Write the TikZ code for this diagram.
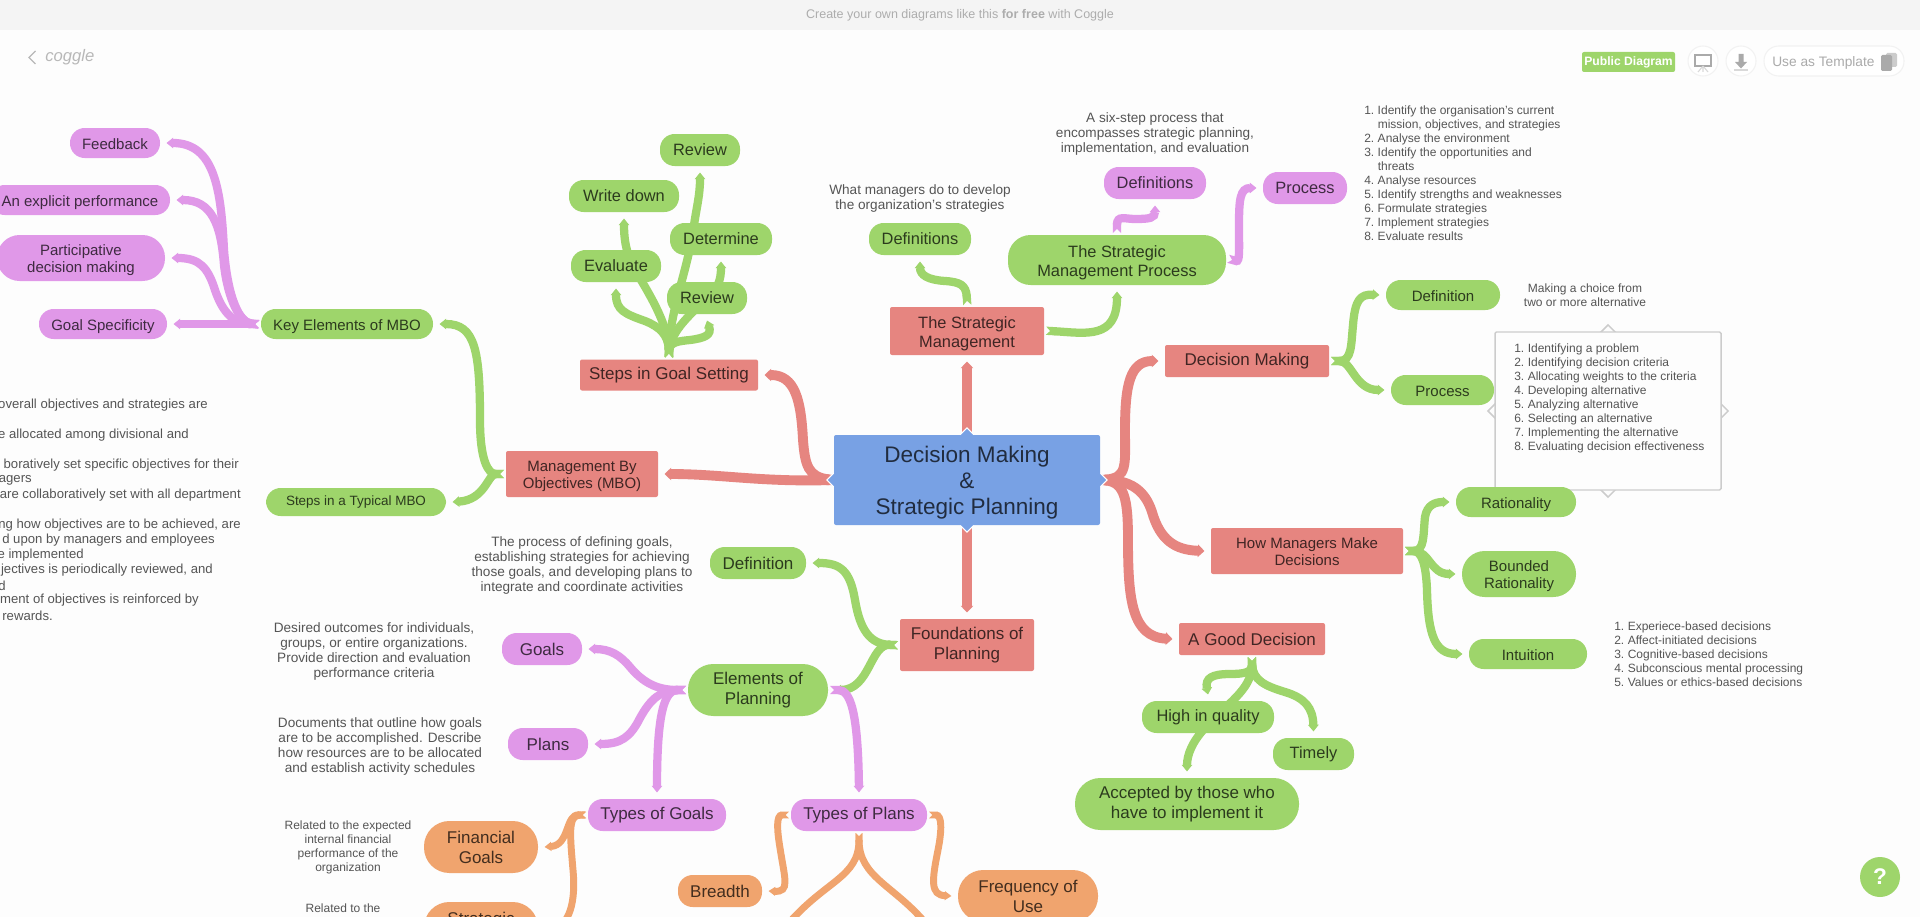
\documentclass[tikz,border=0pt]{standalone}
\usepackage{fontspec}
\setmainfont{Liberation Sans}
\usetikzlibrary{arrows.meta,backgrounds,shapes.geometric}
\definecolor{mapred}{HTML}{E68580}
\definecolor{mapgreen}{HTML}{9ED56B}
\definecolor{mappurple}{HTML}{E098E8}
\definecolor{maporange}{HTML}{F0A46E}
\definecolor{mapblue}{HTML}{78A1E4}
\definecolor{pagebg}{HTML}{FDFDFD}
\definecolor{barbg}{HTML}{F4F4F4}
\definecolor{desctext}{HTML}{555555}
\definecolor{uigrey}{HTML}{AAAAAA}
\tikzset{
  sz/.style 2 args={minimum width=#1*.75pt,minimum height=#2*.75pt},
  lowtext/.style={execute at begin node={\rule{0pt}{#1}},execute at end node={\rule[-.21em]{0pt}{0pt}}},
  f12/.style={font=\fontsize{9}{10.5}\selectfont},
  f13/.style={font=\fontsize{10.2}{11.25}\selectfont},
  f15/.style={font=\fontsize{11.25}{12.75}\selectfont,lowtext=1.03em},
  f16/.style={font=\fontsize{12.3}{14.25}\selectfont},
  f17/.style={font=\fontsize{12.75}{15}\selectfont},
  mapbox/.style={inner sep=0pt,outer sep=4.9pt,align=center,text=black,text opacity=.72},
  greenpill/.style={mapbox,rounded corners=11pt,fill=mapgreen},
  purplepill/.style={mapbox,rounded corners=11pt,fill=mappurple},
  orangepill/.style={mapbox,rounded corners=11pt,fill=maporange},
  wide/.style={rounded corners=17pt},
  redbox/.style={mapbox,rounded corners=1.5pt,fill=mapred},
  desc/.style={align=center,inner sep=0pt,text=desctext,f13},
  small/.style={align=center,inner sep=0pt,text=desctext,f12},
  listtext/.style={anchor=north west,inner sep=0pt,text=desctext,f12},
  link/.style={{Triangle Cap[reversed]}-{Triangle[length=5pt,width=0pt 1.25]},shorten <=-3.4pt},
  linkred/.style={link,draw=mapred,line width=7.4pt},
  linkgreen/.style={link,draw=mapgreen,line width=6.2pt},
  linkpurple/.style={link,draw=mappurple,line width=6.2pt},
  linkorange/.style={link,draw=maporange,line width=5.2pt},
  caret/.style={diamond,inner sep=0pt,minimum size=11pt},
}
\newcommand{\numlist}[1]{\begin{tabular}{@{}r@{\hspace{2.6pt}}l@{}}#1\end{tabular}}
\newcommand{\topstrut}[1][1.03em]{\rule{0pt}{#1}}
\begin{document}
\begin{tikzpicture}[x=.75pt,y=-.75pt]
    \useasboundingbox (0,0) rectangle (1920,917);
    %root and first level
    \node[mapbox,outer sep=0pt,rounded corners=1.5pt,fill=mapblue,sz={266}{90},font=\fontsize{16.9}{19.5}\selectfont] (root) at (967,480) {\topstrut[.95em]Decision Making\\\&\\Strategic Planning};
    \node[redbox,sz={154}{48},f16] (strategic) at (967,331) {\topstrut The Strategic\\Management};
    \node[redbox,sz={178}{31},f17] (goalsetting) at (669,375) {Steps in Goal Setting};
    \node[redbox,sz={152}{46},f15] (mbo) at (582,474) {\topstrut Management By\\Objectives (MBO)};
    \node[redbox,sz={164}{32},f17] (decision) at (1247,361) {Decision Making};
    \node[redbox,sz={192}{46},f15] (howmake) at (1307,551) {\topstrut How Managers Make\\Decisions};
    \node[redbox,sz={146}{32},f17] (gooddec) at (1252,639) {A Good Decision};
    \node[redbox,sz={134}{52},f17] (found) at (967,645) {Foundations of\\Planning};
    %strategic management
    \node[greenpill,sz={102}{32},f16] (stratdef) at (920,239) {Definitions};
    \node[greenpill,wide,sz={218}{50},f16] (smp) at (1117,260) {\topstrut The Strategic\\Management Process};
    \node[purplepill,sz={102}{32},f16] (smpdef) at (1155,183) {Definitions};
    \node[purplepill,sz={84}{32},f16] (smpproc) at (1305,188) {Process};
    \node[desc] (stratdeftext) at (920,198.4) {What managers do to develop\\the organization's strategies};
    \node[desc] (smpdeftext) at (1155,134.4) {A six-step process that\\encompasses strategic planning,\\implementation, and evaluation};
    \node[listtext] (smplist) at (1364,104) {\numlist{1. & Identify the organisation's current\\ & mission, objectives, and strategies\\2. & Analyse the environment\\3. & Identify the opportunities and\\ & threats\\4. & Analyse resources\\5. & Identify strengths and weaknesses\\6. & Formulate strategies\\7. & Implement strategies\\8. & Evaluate results}};
    %goal setting
    \node[greenpill,sz={80}{32},f16] (review) at (700,150) {Review};
    \node[greenpill,sz={110}{32},f16] (writedown) at (624,196) {Write down};
    \node[greenpill,sz={102}{32},f16] (determine) at (721,239) {Determine};
    \node[greenpill,sz={90}{32},f16] (evaluate) at (616,266) {Evaluate};
    \node[greenpill,sz={80}{32},f16] (reviewb) at (707,298) {Review};
    %mbo
    \node[greenpill,sz={172}{30},f15] (keyelem) at (347,324) {Key Elements of MBO};
    \node[greenpill,sz={180}{28},font=\fontsize{10.1}{11.25}\selectfont] (typical) at (356,502) {Steps in a Typical MBO};
    \node[purplepill,sz={90}{30},f15] (feedback) at (115,143) {Feedback};
    \node[purplepill,sz={180}{30},f15] (explicit) at (80,200) {An explicit performance};
    \node[purplepill,wide,sz={168}{46},f15] (particip) at (81,258) {\topstrut Participative\\decision making};
    \node[purplepill,sz={128}{30},f15] (goalspec) at (103,324) {Goal Specificity};
    \foreach \ypos/\xend/\txt in {405.4/208/{overall objectives and strategies are},435.4/189/{e allocated among divisional and},465.4/239/{boratively set specific objectives for their},480.4/32/{agers},495.4/241/{are collaboratively set with all department},525.4/241/{ng how objectives are to be achieved, are},540.4/215/{d upon by managers and employees},555.4/84/{e implemented},570.4/213/{jectives is periodically reviewed, and},585.4/6/{d},600.4/199/{ment of objectives is reinforced by},615.4/53/{rewards.}}
      \node[anchor=east,inner sep=0pt,text=desctext,font=\fontsize{9.85}{11.25}\selectfont] (mbostep\ypos) at (\xend,\ypos) {\txt};
    %decision making
    \node[greenpill,sz={114}{30},f15] (decdef) at (1443,295) {Definition};
    \node[greenpill,sz={103}{30},f15] (decproc) at (1442.5,390) {Process};
    \node[small] (decdeftext) at (1585,295) {Making a choice from\\two or more alternative};
    \node[caret,fill=pagebg,draw=black!20,line width=1.1pt] (caretn) at (1608,332) {};
    \node[caret,fill=pagebg,draw=black!20,line width=1.1pt] (carets) at (1608,490) {};
    \node[caret,fill=pagebg,draw=black!20,line width=1.1pt] (caretw) at (1495,411) {};
    \node[caret,fill=pagebg,draw=black!20,line width=1.1pt] (carete) at (1721,411) {};
    \node[fill=pagebg,draw=black!20,line width=1.1pt,rounded corners=1pt,sz={226}{158},inner sep=0pt] (procbox) at (1608,411) {};
    \node[listtext] (declist) at (1514,342) {\numlist{1. & Identifying a problem\\2. & Identifying decision criteria\\3. & Allocating weights to the criteria\\4. & Developing alternative\\5. & Analyzing alternative\\6. & Selecting an alternative\\7. & Implementing the alternative\\8. & Evaluating decision effectiveness}};
    %how managers make decisions
    \node[greenpill,sz={120}{30},f15] (ration) at (1516,502) {Rationality};
    \node[greenpill,wide,sz={114}{46},f15] (bounded) at (1519,574) {\topstrut Bounded\\Rationality};
    \node[greenpill,sz={118}{30},f15] (intuit) at (1528,654) {Intuition};
    \node[listtext] (intlist) at (1614,620) {\numlist{1. & Experiece-based decisions\\2. & Affect-initiated decisions\\3. & Cognitive-based decisions\\4. & Subconscious mental processing\\5. & Values or ethics-based decisions}};
    %good decision
    \node[greenpill,sz={132}{32},f16] (quality) at (1208,717) {High in quality};
    \node[greenpill,sz={81}{32},f16] (timely) at (1313.5,754) {Timely};
    \node[greenpill,wide,rounded corners=19pt,sz={224}{52},f17] (accepted) at (1187,804) {Accepted by those who\\have to implement it};
    %foundations of planning
    \node[greenpill,sz={96}{32},f17] (founddef) at (758,563) {Definition};
    \node[greenpill,wide,rounded corners=19pt,sz={140}{52},f17] (elements) at (758,690) {Elements of\\Planning};
    \node[desc] (founddeftext) at (582,565) {The process of defining goals,\\establishing strategies for achieving\\those goals, and developing plans to\\integrate and coordinate activities};
    \node[purplepill,sz={80}{32},f17] (goals) at (542,649) {Goals};
    \node[purplepill,sz={80}{32},f17] (plans) at (548,744) {Plans};
    \node[desc] (goalstext) at (374,651) {Desired outcomes for individuals,\\groups, or entire organizations.\\Provide direction and evaluation\\performance criteria};
    \node[desc] (planstext) at (380,746) {Documents that outline how goals\\are to be accomplished. Describe\\how resources are to be allocated\\and establish activity schedules};
    \node[purplepill,sz={138}{32},f17] (typegoals) at (657,815) {Types of Goals};
    \node[purplepill,sz={136}{32},f17] (typeplans) at (859,815) {Types of Plans};
    \node[orangepill,wide,rounded corners=19pt,sz={114}{52},f17] (financial) at (481,847) {Financial\\Goals};
    \node[orangepill,wide,rounded corners=19pt,sz={114}{52},f17] (strategicg) at (481,928) {Strategic\\\phantom{Goals}};
    \node[small] (financialtext) at (348,847) {Related to the expected\\internal financial\\performance of the\\organization};
    \node[small,anchor=north] (strategictext) at (343,904) {Related to the};
    \node[orangepill,sz={84}{32},f17] (breadth) at (720,891) {Breadth};
    \node[orangepill,wide,rounded corners=19pt,sz={140}{52},f17] (frequency) at (1028,896) {Frequency of\\Use};
    \coordinate (planleft) at (782,931);
    \coordinate (planright) at (932,931);
    %page furniture
    \node[anchor=center,text=black!32,font=\fontsize{9.4}{11}\selectfont] (banner) at (960,15) {Create your own diagrams like this \textbf{for free} with Coggle};
    \node[anchor=west,inner sep=0pt,text=black!28,font=\fontsize{12.5}{15}\itshape\selectfont] (logo) at (45,57) {coggle};
    \draw[black!28,line width=1pt] (35.5,51) -- (29,57.5) -- (35.5,64);
    \node[fill=mapgreen,rounded corners=1.5pt,text=white,inner sep=0pt,sz={93}{20},font=\fontsize{9.1}{11}\bfseries\selectfont] (public) at (1628.5,62) {Public Diagram};
    \node[circle,fill=white,draw=black!5,line width=.8pt,sz={30}{30},inner sep=0pt] (slidebtn) at (1703,61) {};
    \node[circle,fill=white,draw=black!5,line width=.8pt,sz={30}{30},inner sep=0pt] (downbtn) at (1741,61) {};
    \node[fill=white,draw=black!5,line width=.8pt,rounded corners=11pt,sz={140}{30},inner sep=0pt] (tplbtn) at (1834,61) {};
    \node[anchor=west,inner sep=0pt,text=uigrey,font=\fontsize{10.3}{12}\selectfont] (tpltext) at (1772,63) {Use as Template};
    \draw[uigrey,line width=1.1pt,fill=white] (1695,55) rectangle (1711,66);
    \draw[black!15,line width=.8pt] (1703,66) -- (1703,72) (1703,66) -- (1698,72) (1703,66) -- (1708,72);
    \fill[uigrey] (1738.5,54) rectangle (1743.5,62) -- (1747,62) -- (1741,68.5) -- (1735,62) -- (1738.5,62);
    \draw[black!15,line width=.8pt] (1734,70) -- (1748,70);
    \fill[black!20,rounded corners=1pt] (1886,53) rectangle (1897,67);
    \fill[uigrey,rounded corners=1pt] (1881,55) rectangle (1892,71);
    \node[circle,fill=mapgreen,text=white,sz={40}{40},inner sep=0pt,font=\fontsize{17}{20}\bfseries\selectfont] (help) at (1880,877) {?};
    %connectors
    \begin{scope}[on background layer]
    \fill[pagebg] (0,0) rectangle (1920,917);
    \fill[barbg] (0,0) rectangle (1920,30);
    \draw[linkred] (root.north) -- (strategic.south);
    \draw[linkred] (root.south) -- (found.north);
    \draw[linkred] (root.west) .. controls (808,477) and (805,465) .. (803,440) .. controls (801,400) and (795,375) .. (goalsetting.east);
    \draw[linkred] (root.west) .. controls (760,482) and (720,474) .. (mbo.east);
    \draw[linkred] (root.east) .. controls (1128,478) and (1125,465) .. (1125,430) .. controls (1125,385) and (1130,361) .. (decision.west);
    \draw[linkred] (root.east) .. controls (1130,480) and (1145,490) .. (1152,512) .. controls (1160,540) and (1175,550) .. (howmake.west);
    \draw[linkred] (root.east) .. controls (1125,482) and (1128,500) .. (1128,540) .. controls (1128,600) and (1132,637) .. (gooddec.west);
    \draw[linkgreen] (strategic.north) .. controls (966,285) and (960,282) .. (945,281) .. controls (928,280) and (920,275) .. (stratdef.south);
    \draw[linkgreen] (strategic.east) .. controls (1085,333) and (1117,340) .. (smp.south);
    \draw[linkpurple] (smp.north) .. controls (1117,215) and (1125,219) .. (1135,219) .. controls (1150,219) and (1155,218) .. (smpdef.south);
    \draw[linkpurple] (smp.east) .. controls (1240,262) and (1239,250) .. (1239,225) .. controls (1239,200) and (1240,188) .. (smpproc.west);
    \draw[linkgreen] (goalsetting.north) .. controls (670,310) and (688,270) .. (694,225) .. controls (697,205) and (700,195) .. (review.south);
    \draw[linkgreen] (goalsetting.north) .. controls (668,325) and (650,295) .. (638,275) .. controls (628,258) and (624,245) .. (writedown.south);
    \draw[linkgreen] (goalsetting.north) .. controls (672,330) and (690,315) .. (705,300) .. controls (718,290) and (721,280) .. (determine.south);
    \draw[linkgreen] (goalsetting.north) .. controls (668,335) and (660,327) .. (645,321) .. controls (625,314) and (616,310) .. (evaluate.south);
    \draw[linkgreen] (goalsetting.north) .. controls (670,342) and (680,341) .. (690,340) .. controls (705,338) and (712,335) .. (reviewb.south);
    \draw[linkgreen] (mbo.west) .. controls (488,474) and (480,460) .. (480,420) .. controls (480,350) and (475,324) .. (keyelem.east);
    \draw[linkgreen] (mbo.west) .. controls (488,474) and (485,500) .. (typical.east);
    \draw[linkpurple] (keyelem.west) -- (goalspec.east);
    \draw[linkpurple] (keyelem.west) .. controls (240,322) and (228,300) .. (224,250) .. controls (221,190) and (215,143) .. (feedback.east);
    \draw[linkpurple] (keyelem.west) .. controls (240,322) and (228,300) .. (224,265) .. controls (221,225) and (212,200) .. (explicit.east);
    \draw[linkpurple] (keyelem.west) .. controls (240,324) and (225,320) .. (215,290) .. controls (208,268) and (200,258) .. (particip.east);
    \draw[linkgreen] (found.west) .. controls (870,644) and (860,630) .. (855,600) .. controls (850,570) and (840,563) .. (founddef.east);
    \draw[linkgreen] (found.west) .. controls (870,644) and (870,690) .. (elements.east);
    \draw[linkpurple] (elements.east) .. controls (850,690) and (858,710) .. (typeplans.north);
    \draw[linkpurple] (elements.west) .. controls (665,690) and (657,710) .. (typegoals.north);
    \draw[linkpurple] (elements.west) .. controls (660,690) and (645,685) .. (630,667) .. controls (620,655) and (610,649) .. (goals.east);
    \draw[linkpurple] (elements.west) .. controls (660,690) and (650,700) .. (640,718) .. controls (630,738) and (620,744) .. (plans.east);
    \draw[linkorange] (typegoals.west) .. controls (565,814) and (570,845) .. (financial.east);
    \draw[linkorange] (typegoals.west) .. controls (568,816) and (570,835) .. (573,870) .. controls (576,900) and (570,928) .. (strategicg.east);
    \draw[linkorange] (typeplans.west) .. controls (776,815) and (777,830) .. (780,848) .. controls (785,880) and (790,892) .. (breadth.east);
    \draw[linkorange] (typeplans.east) .. controls (942,815) and (942,830) .. (938,850) .. controls (932,880) and (930,895) .. (frequency.west);
    \draw[linkorange] (typeplans.south) .. controls (859,878) and (825,880) .. (planleft);
    \draw[linkorange] (typeplans.south) .. controls (859,878) and (895,885) .. (planright);
    \draw[linkgreen] (decision.east) .. controls (1352,361) and (1351,345) .. (1353,325) .. controls (1355,300) and (1360,294) .. (decdef.west);
    \draw[linkgreen] (decision.east) .. controls (1352,361) and (1355,390) .. (decproc.west);
    \draw[linkgreen] (howmake.east) .. controls (1425,551) and (1423,535) .. (1425,517) .. controls (1427,505) and (1435,502) .. (ration.west);
    \draw[linkgreen] (howmake.east) .. controls (1430,551) and (1430,574) .. (bounded.west);
    \draw[linkgreen] (howmake.east) .. controls (1422,551) and (1426,565) .. (1427,590) .. controls (1428,635) and (1435,654) .. (intuit.west);
    \draw[linkgreen] (gooddec.south) .. controls (1252,672) and (1245,674) .. (1230,674) .. controls (1212,674) and (1205,678) .. (quality.north);
    \draw[linkgreen] (gooddec.south) .. controls (1252,690) and (1225,705) .. (1205,728) .. controls (1192,742) and (1187,755) .. (accepted.north);
    \draw[linkgreen] (gooddec.south) .. controls (1253,680) and (1265,686) .. (1285,692) .. controls (1305,698) and (1313,708) .. (timely.north);
    \foreach \side in {north,south,east,west}
      \node[caret,fill=mapblue,draw=white,line width=.8pt] (rootcaret\side) at (root.\side) {};
    \end{scope}
\end{tikzpicture}
\end{document}
